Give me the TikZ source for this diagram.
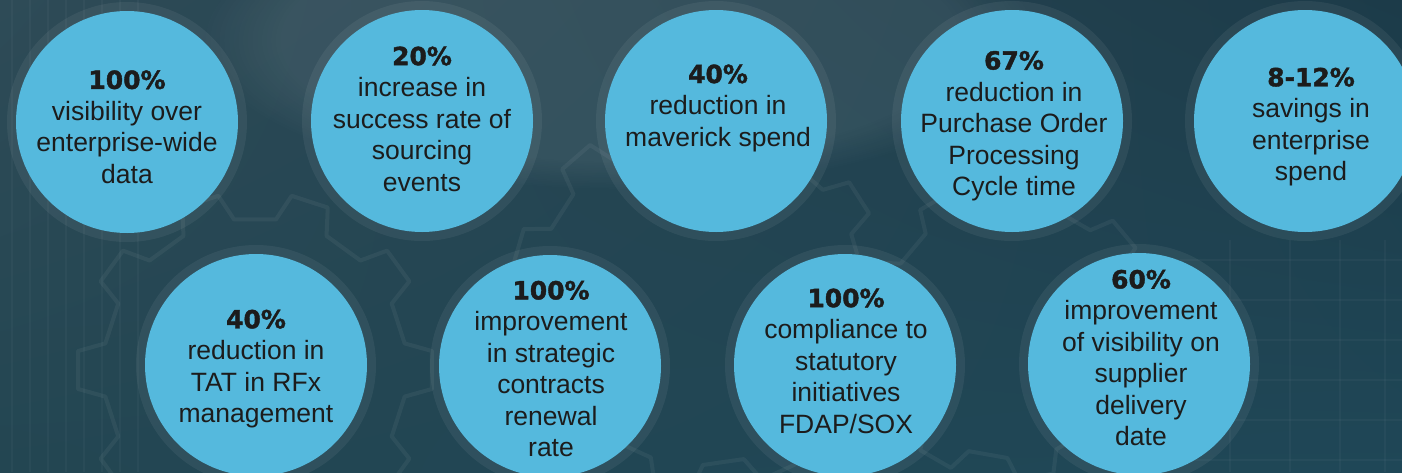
\documentclass[tikz,border=0pt]{standalone}
\usepackage{fontspec}
\usetikzlibrary{shadings,fadings}
\setmainfont{Liberation Sans}
\newfontfamily\numfont{DejaVu Sans}[BoldFeatures={FakeBold=1.6}]
\definecolor{bgUL}{HTML}{2E4B57}
\definecolor{bgUR}{HTML}{1C3B49}
\definecolor{bgLL}{HTML}{234652}
\definecolor{bgLR}{HTML}{1F4757}
\definecolor{bubblefill}{HTML}{55B9DD}
\definecolor{textdark}{HTML}{1C1C1C}
\tikzset{
  bubble/.style={circle, fill=bubblefill, minimum size=222pt, inner sep=0pt,
    preaction={draw=white, draw opacity=0.06, line width=18pt}},
  txt/.style={align=center, text=textdark, inner sep=0pt,
    font=\fontsize{26.5}{31.5}\selectfont},
  gearline/.style={draw=white, draw opacity=0.05, line width=4pt, line join=round},
  rackline/.style={draw=white, draw opacity=0.03, line width=2pt}
}
\newcommand{\num}[1]{{\numfont\bfseries\fontsize{25}{31.5}\selectfont #1}}
\newcommand{\geardraw}[5]{% x, y, R, r, teeth
  \begin{scope}[shift={(#1,#2)}]
    \pgfmathsetmacro{\gp}{360/#5}
    \draw[gearline] ({-0.28*\gp}:#4)
      \foreach \k in {0,...,\numexpr#5-1\relax}{
        -- ({\k*\gp-0.28*\gp}:#4) -- ({\k*\gp-0.17*\gp}:#3)
        -- ({\k*\gp+0.17*\gp}:#3) -- ({\k*\gp+0.28*\gp}:#4)
      } -- cycle;
  \end{scope}}
\begin{document}
\begin{tikzpicture}[x=1pt,y=-1pt]
\useasboundingbox (0,0) rectangle (1402,472);
\shade[upper left=bgUL, upper right=bgUR, lower left=bgLL, lower right=bgLR]
  (0,0) rectangle (1402,472);
\fill[white, opacity=0.07, path fading=circle with fuzzy edge 20 percent]
  (620,40) ellipse (420 and 150);
% faint background texture
\foreach \xx in {12,30,48,66,84,102,120,138}{
  \draw[rackline] (\xx,0) -- (\xx,472);
}
\foreach \yy in {260,300,340,380,420,460}{
  \draw[rackline] (1180,\yy) -- (1402,\yy);
}
\foreach \xx in {1230,1290,1340,1385}{
  \draw[rackline] (\xx,240) -- (\xx,472);
}
\geardraw{255}{370}{178}{152}{10}
\geardraw{700}{300}{190}{165}{11}
\geardraw{1010}{330}{150}{128}{9}

% top row
\node[bubble] (c1) at (127,122) {};
\node[bubble] (c2) at (422,121) {};
\node[bubble] (c3) at (716,121) {};
\node[bubble] (c4) at (1012,121) {};
\node[bubble] (c5) at (1305,121) {};
% bottom row
\node[bubble] (c6) at (256,365) {};
\node[bubble] (c7) at (550,366) {};
\node[bubble] (c8) at (845,365) {};
\node[bubble] (c9) at (1139,364) {};

\node[txt] (t1) at (127,127) {\num{100\%}\\visibility over\\enterprise-wide\\data};
\node[txt] (t2) at (422,119) {\num{20\%}\\increase in\\success rate of\\sourcing\\events};
\node[txt] (t3) at (718,108) {\num{40\%}\\reduction in\\maverick spend};
\node[txt] (t4) at (1014,126) {\num{67\%}\\reduction in\\Purchase Order\\Processing\\Cycle time};
\node[txt] (t5) at (1311,127) {\num{8-12\%}\\savings in\\enterprise\\spend};
\node[txt] (t6) at (256,369) {\num{40\%}\\reduction in\\TAT in RFx\\management};
\node[txt] (t7) at (551,369) {\num{100\%}\\improvement\\in strategic\\contracts\\renewal\\rate};
\node[txt] (t8) at (846,361) {\num{100\%}\\compliance to\\statutory\\initiatives\\FDAP/SOX};
\node[txt] (t9) at (1141,358) {\num{60\%}\\improvement\\of visibility on\\supplier\\delivery\\date};
\end{tikzpicture}
\end{document}
